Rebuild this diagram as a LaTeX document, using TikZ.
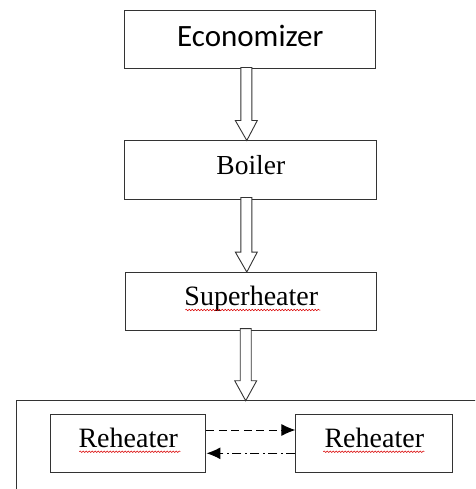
\documentclass[tikz,border=0pt]{standalone}
\usepackage{fontspec}
\setmainfont{Liberation Serif}
\newfontfamily\calibrifont{Carlito}
\usepackage{tikz}
\usetikzlibrary{arrows.meta,positioning,calc,decorations.pathmorphing}

\tikzset{
  stage/.style={draw=black!80,line width=1pt,rectangle,inner sep=0pt,
    text height=14pt,text depth=6pt,font=\fontsize{28}{30}\selectfont},
  blockarrow/.style={draw=black!80,line width=0.9pt,fill=white,to path={
    let \p1=(\tikztostart), \p2=(\tikztotarget) in
    (\x1-5.5pt,\y1) -- (\x1-5.5pt,\y2+20pt) -- (\x1-11pt,\y2+20pt) -- (\x2,\y2)
    -- (\x1+11pt,\y2+20pt) -- (\x1+5.5pt,\y2+20pt) -- (\x1+5.5pt,\y1) -- cycle}},
  spellmark/.style={red!85!black,line width=0.5pt,
    decorate,decoration={snake,amplitude=0.8pt,segment length=3pt}},
  flow/.style={black,line width=1pt,-{Latex[length=14pt,width=12pt]}}
}

\begin{document}
\begin{tikzpicture}[x=1pt,y=1pt]
        \useasboundingbox (0,0) rectangle (475,-489);
        \clip (0,0) rectangle (475,-489);

        % Hauptstufen
        \node[stage,minimum width=251pt,minimum height=58pt,text height=16.5pt,text depth=3pt,
          font=\calibrifont\fontsize{31}{33}\selectfont] (econ) at (250.3,-40) {Economizer};
        \node[stage,minimum width=252pt,minimum height=58pt,
          font=\fontsize{27.5}{30}\selectfont] (boiler) at (250.8,-170) {Boiler};
        \node[stage,minimum width=251pt,minimum height=57.5pt] (superheater) at (251.3,-301.3) {Superheater};

        % Rahmen um die Zwischenueberhitzer
        \draw[black!80,line width=1pt] (480,-400.7) -| (16,-495);
        \coordinate (frametop) at (245.7,-400.7);

        % Zwischenueberhitzer
        \node[stage,minimum width=155.3pt,minimum height=58.3pt] (reheatA) at (128.3,-443.5) {Reheater};
        \node[stage,minimum width=156.7pt,minimum height=58.3pt] (reheatB) at (374.3,-443.5) {Reheater};

        % Blockpfeile
        \draw[blockarrow] ([xshift=-4pt,yshift=2pt]econ.south) to ([xshift=-4pt]boiler.north);
        \draw[blockarrow] ([xshift=-4.5pt,yshift=2pt]boiler.south) to ([xshift=-4.5pt]superheater.north);
        \draw[blockarrow] ([xshift=-5.6pt,yshift=2pt]superheater.south) to (frametop);

        % Pfeile zwischen den Reheatern
        \draw[flow,dash pattern=on 8pt off 4.5pt] ([yshift=13.5pt]reheatA.east) -- ([yshift=13.5pt]reheatB.west);
        \draw[flow,dash pattern=on 9pt off 3.5pt on 2pt off 3.5pt] ([yshift=-9.8pt]reheatB.west) -- ([yshift=-9.8pt]reheatA.east);

        % Rechtschreibmarken
        \draw[spellmark] ([xshift=-66pt,yshift=-8.7pt]superheater.center) -- ++(135,0);
        \draw[spellmark] ([xshift=-49pt,yshift=-8.2pt]reheatA.center) -- ++(101,0);
        \draw[spellmark] ([xshift=-51pt,yshift=-8.2pt]reheatB.center) -- ++(101,0);
      \end{tikzpicture}
\end{document}
